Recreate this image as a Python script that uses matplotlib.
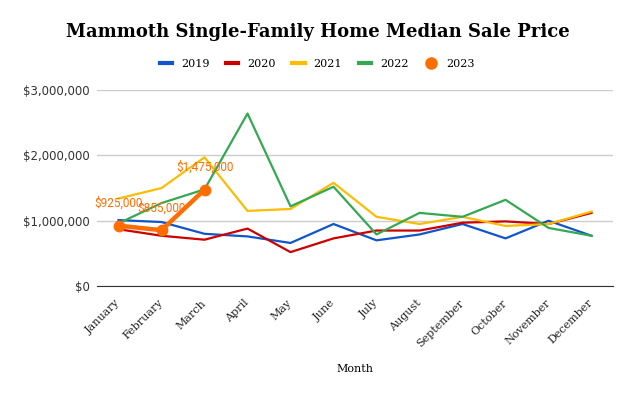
import matplotlib.pyplot as plt
import matplotlib.transforms as mtransforms
from matplotlib.lines import Line2D
from matplotlib.ticker import FuncFormatter

months = ['January', 'February', 'March', 'April', 'May', 'June', 'July',
          'August', 'September', 'October', 'November', 'December']

# median sale price by year
p2019 = [1010000, 980000, 800000, 760000, 660000, 950000, 700000, 790000, 950000, 730000, 1000000, 770000]
p2020 = [870000, 770000, 710000, 880000, 520000, 730000, 850000, 850000, 970000, 990000, 950000, 1120000]
p2021 = [1340000, 1500000, 1970000, 1150000, 1180000, 1580000, 1060000, 950000, 1060000, 920000, 950000, 1140000]
p2022 = [960000, 1270000, 1480000, 2640000, 1220000, 1520000, 790000, 1120000, 1060000, 1320000, 890000, 770000]
p2023 = [925000, 855000, 1475000]

colors = {'2019': '#1155cc', '2020': '#cc0000', '2021': '#fbbc04',
          '2022': '#34a853', '2023': '#ff6d01'}

serif = 'DejaVu Serif'

fig = plt.figure(figsize=(6.32, 3.93), dpi=100)
ax = fig.add_axes([0.1535, 0.272, 0.8165, 0.499])

x = list(range(12))
ax.plot(x, p2019, color=colors['2019'], lw=1.6)
ax.plot(x, p2020, color=colors['2020'], lw=1.6)
ax.plot(x, p2021, color=colors['2021'], lw=1.6)
ax.plot(x, p2022, color=colors['2022'], lw=1.6)
ax.plot(x[:len(p2023)], p2023, color=colors['2023'], lw=3.2,
        marker='o', ms=7.5)

for i, v in enumerate(p2023):
    ax.annotate('${:,}'.format(v), (i, v), xytext=(0, 16),
                textcoords='offset points', ha='center', va='center',
                color=colors['2023'], fontsize=8.5, family='Roboto')

ax.set_xlim(-0.5, 11.5)
ax.set_ylim(0, 3000000)
ax.set_yticks([0, 1000000, 2000000, 3000000])
ax.yaxis.set_major_formatter(FuncFormatter(lambda v, p: '${:,.0f}'.format(v)))
ax.set_xticks(x)
ax.set_xticklabels(months, rotation=45, ha='right', va='center',
                   rotation_mode='anchor', family=serif, fontsize=8,
                   color='#222222')
shift = mtransforms.ScaledTranslation(3 / 100, 0, fig.dpi_scale_trans)
for lab in ax.get_xticklabels():
    lab.set_transform(lab.get_transform() + shift)
for lab in ax.get_yticklabels():
    lab.set_family('DejaVu Sans')
    lab.set_fontsize(8.5)
    lab.set_color('#333333')
ax.tick_params(axis='x', length=0, pad=11)
ax.tick_params(axis='y', length=0, pad=5)
ax.grid(axis='y', color='#cccccc', lw=1)
ax.set_axisbelow(True)
for s in ['top', 'right', 'left']:
    ax.spines[s].set_visible(False)
ax.spines['bottom'].set_color('#333333')
ax.spines['bottom'].set_zorder(0)

ax.set_xlabel('Month', family=serif, fontsize=8)
ax.xaxis.set_label_coords(0.5, -0.398)

fig.text(0.503, 0.919, 'Mammoth Single-Family Home Median Sale Price',
         ha='center', va='center', family=serif, fontweight='bold', fontsize=13)

handles = [Line2D([], [], color=colors[k], lw=3) for k in ['2019', '2020', '2021', '2022']]
handles.append(Line2D([], [], color=colors['2023'], lw=0, marker='o', ms=8))
fig.legend(handles, ['2019', '2020', '2021', '2022', '2023'], loc='center',
           bbox_to_anchor=(0.502, 0.837), ncol=5, frameon=False,
           prop={'family': serif, 'size': 8}, handlelength=1.1,
           columnspacing=1.5, handletextpad=0.8)

fig.savefig('out.png', dpi=100)
